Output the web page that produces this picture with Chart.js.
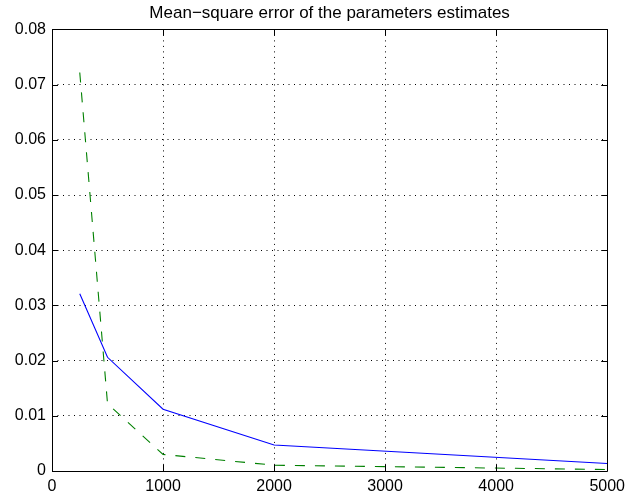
<!DOCTYPE html>
<html>
<head>
<meta charset="utf-8">
<script src="https://cdn.jsdelivr.net/npm/chart.js@4"></script>
<style>
  html, body { margin: 0; padding: 0; background: #fff; }
  canvas { display: block; }
</style>
</head>
<body>
<canvas id="mseChart" width="631" height="498"></canvas>
<script>
// number of samples used for the estimation
const nSamples = [250, 500, 1000, 2000, 5000];
// mean-square error, solid blue curve
const mseSolid = [0.0321, 0.0206, 0.0112, 0.0047, 0.00135];
// mean-square error, dashed green curve
const mseDashed = [0.0722, 0.0122, 0.0030, 0.00105, 0.00027];

const titleText = 'Mean\u2212square error of the parameters estimates';
const xTicks = [0, 1000, 2000, 3000, 4000, 5000];
const yTicks = [0, 0.01, 0.02, 0.03, 0.04, 0.05, 0.06, 0.07, 0.08];

const FONT = '"Liberation Sans", Arial, Helvetica, sans-serif';

function toPoints(xs, ys) {
  return xs.map((x, i) => ({ x: x, y: ys[i] }));
}

// matlab style box with inward tick marks
const boxPlugin = {
  id: 'boxPlugin',
  afterDraw(chart) {
    const ctx = chart.ctx;
    const { left, right, top, bottom } = chart.chartArea;
    const xs = chart.scales.x, ys = chart.scales.y;
    const len = 6;
    ctx.save();
    ctx.strokeStyle = '#000';
    ctx.lineWidth = 1;
    ctx.beginPath();
    ctx.rect(Math.round(left) + 0.5, Math.round(top) + 0.5,
             Math.round(right) - Math.round(left), Math.round(bottom) - Math.round(top));
    xTicks.forEach(v => {
      const px = Math.round(xs.getPixelForValue(v)) + 0.5;
      ctx.moveTo(px, bottom); ctx.lineTo(px, bottom - len);
      ctx.moveTo(px, top); ctx.lineTo(px, top + len);
    });
    yTicks.forEach(v => {
      const py = Math.round(ys.getPixelForValue(v)) + 0.5;
      ctx.moveTo(left, py); ctx.lineTo(left + len, py);
      ctx.moveTo(right, py); ctx.lineTo(right - len, py);
    });
    ctx.stroke();
    ctx.restore();
  }
};

const gridStyle = {
  color: '#000',
  lineWidth: 1,
  drawTicks: false
};

new Chart(document.getElementById('mseChart'), {
  type: 'line',
  data: {
    datasets: [
      {
        data: toPoints(nSamples, mseSolid),
        borderColor: '#0000ff',
        borderWidth: 1.1,
        pointRadius: 0,
        fill: false,
        tension: 0
      },
      {
        data: toPoints(nSamples, mseDashed),
        borderColor: '#008000',
        borderWidth: 1.1,
        borderDash: [10, 10],
        pointRadius: 0,
        fill: false,
        tension: 0
      }
    ]
  },
  options: {
    responsive: false,
    devicePixelRatio: 1,
    animation: false,
    layout: { padding: { left: 0, right: 18, top: 0, bottom: 0 } },
    plugins: {
      legend: { display: false },
      tooltip: { enabled: false },
      title: {
        display: true,
        text: titleText,
        fullSize: false,
        color: '#000',
        font: { family: FONT, size: 17, weight: 'normal' },
        padding: { top: 3, bottom: 6 }
      }
    },
    scales: {
      x: {
        type: 'linear',
        min: 0,
        max: 5000,
        afterBuildTicks: s => { s.ticks = xTicks.map(v => ({ value: v })); },
        afterFit: s => { s.height = 27; },
        grid: gridStyle,
        border: { display: false, dash: [1, 4.5] },
        ticks: {
          color: '#000',
          padding: 6,
          maxRotation: 0,
          font: { family: FONT, size: 16 },
          callback: v => String(v)
        }
      },
      y: {
        type: 'linear',
        min: 0,
        max: 0.08,
        afterBuildTicks: s => { s.ticks = yTicks.map(v => ({ value: v })); },
        afterFit: s => { s.width = 52; },
        grid: gridStyle,
        border: { display: false, dash: [1, 4.5] },
        ticks: {
          color: '#000',
          padding: 6,
          font: { family: FONT, size: 16 },
          callback: v => (v === 0 ? '0' : v.toFixed(2))
        }
      }
    }
  },
  plugins: [boxPlugin]
});
</script>
</body>
</html>
